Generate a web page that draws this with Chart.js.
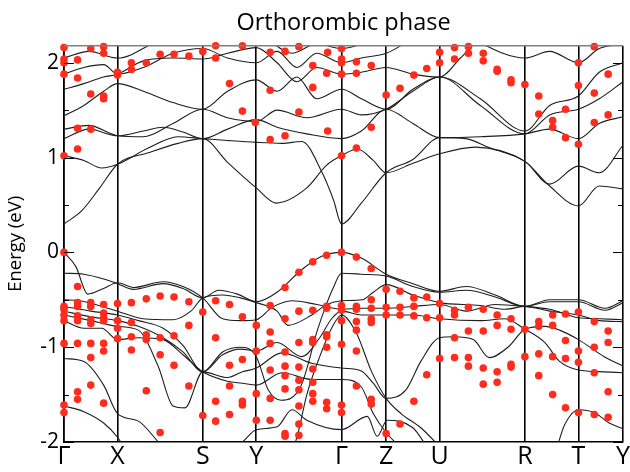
<!DOCTYPE html>
<html>
<head>
<meta charset="utf-8">
<title>Orthorombic phase</title>
<script src="https://cdn.jsdelivr.net/npm/chart.js@4.4.1/dist/chart.umd.min.js"></script>
<style>
  html, body { margin: 0; padding: 0; background: #fff; }
  #wrap { width: 630px; height: 472px; }
</style>
</head>
<body>
<div id="wrap"><canvas id="bands"></canvas></div>
<script>
// k-path positions of the high-symmetry points and their labels
const kPoints = [0, 54, 140, 194, 280, 325, 379, 465, 519, 564];
const kLabels = ['Γ', 'X', 'S', 'Y', 'Γ', 'Z', 'U', 'R', 'T', 'Y'];

// Conduction bands, [k, energy eV]
const cb1 = [[0,0.30],[18,0.44],[36,0.68],[54,0.93],[85,1.05],[115,1.15],[140,1.20],[165,0.95],[194,0.68],[214,0.52],[245,0.68],[265,0.92],[280,1.02],[296,1.09],[312,0.97],[325,0.84],[352,0.94],[379,1.04],[415,1.11],[465,0.96],[490,0.72],[519,0.91],[540,0.84],[564,1.13]];
const cb2 = [[0,1.02],[20,0.97],[38,0.89],[54,0.93],[85,1.10],[115,1.22],[140,1.20],[165,1.18],[194,1.16],[220,1.15],[240,1.17],[260,0.85],[272,0.55],[280,0.30],[300,0.52],[325,0.84],[352,0.98],[379,1.21],[405,1.20],[430,1.10],[465,0.96],[490,0.70],[519,0.49],[540,0.70],[564,0.67]];
const cb3 = [[0,1.20],[25,1.30],[54,1.23],[80,1.28],[100,1.32],[120,1.27],[140,1.20],[165,1.30],[194,1.40],[215,1.32],[245,1.25],[280,1.20],[300,1.28],[325,1.51],[352,1.36],[379,1.21],[420,1.22],[465,1.25],[490,1.30],[519,1.20],[540,1.36],[564,1.43]];
const cb4 = [[0,1.30],[25,1.34],[54,1.23],[80,1.22],[110,1.36],[140,1.51],[165,1.42],[194,1.38],[215,1.50],[245,1.42],[280,1.51],[300,1.45],[325,1.51],[352,1.70],[379,1.85],[420,1.55],[465,1.25],[490,1.45],[519,1.51],[540,1.62],[564,1.80]];
const cb5 = [[0,1.44],[20,1.55],[40,1.70],[54,1.78],[80,1.70],[110,1.58],[140,1.51],[165,1.70],[194,1.82],[215,1.70],[235,1.85],[255,1.62],[280,1.72],[300,1.62],[325,1.51],[352,1.72],[379,1.85],[420,1.62],[465,1.28],[490,1.55],[519,1.65],[540,1.90],[564,2.0]];
const cb6 = [[0,1.72],[20,1.78],[40,1.85],[54,1.88],[80,2.02],[110,2.05],[140,2.04],[165,2.10],[194,2.16],[215,2.0],[235,1.80],[255,1.95],[280,1.88],[300,1.90],[325,1.95],[352,1.88],[379,1.85],[400,2.05],[420,2.25],[465,2.35],[519,2.3],[564,2.3]];
const cb7 = [[0,1.88],[20,1.95],[40,1.98],[54,1.88],[80,1.95],[110,2.10],[140,2.15],[165,2.05],[194,2.0],[215,2.12],[235,1.95],[255,2.10],[280,2.0],[300,2.05],[325,2.10],[352,2.25],[379,2.35],[465,2.05],[490,2.12],[519,2.0],[540,2.15],[564,2.2]];
const cb8 = [[0,2.05],[25,2.12],[54,2.05],[100,2.25],[140,2.3],[194,2.3],[230,2.1],[255,2.2],[280,2.15],[325,2.3]];

// Valence bands, [k, energy eV]
const vb1 = [[0,-0.22],[20,-0.23],[40,-0.28],[54,-0.33],[70,-0.39],[100,-0.33],[120,-0.38],[140,-0.48],[156,-0.40],[175,-0.44],[194,-0.52],[215,-0.42],[240,-0.18],[260,-0.04],[280,0.0],[300,-0.06],[325,-0.23],[352,-0.33],[379,-0.41],[406,-0.36],[435,-0.45],[465,-0.57],[490,-0.50],[519,-0.50],[546,-0.59],[564,-0.51]];
const vb2 = [[0,0.0],[12,-0.15],[24,-0.44],[40,-0.38],[54,-0.32],[70,-0.37],[100,-0.31],[120,-0.36],[140,-0.48],[160,-0.70],[178,-0.72],[194,-0.71],[210,-0.58],[230,-0.51],[255,-0.55],[280,-0.60],[300,-0.59],[325,-0.59],[352,-0.57],[379,-0.55],[406,-0.62],[435,-0.55],[465,-0.57],[490,-0.60],[519,-0.69],[540,-0.70],[564,-0.71]];
const vb3 = [[0,-0.50],[16,-0.51],[35,-0.56],[54,-0.62],[80,-0.70],[110,-0.71],[128,-0.62],[140,-0.48],[160,-0.45],[178,-0.48],[194,-0.53],[215,-0.62],[226,-0.77],[250,-0.66],[265,-0.55],[280,-0.51],[301,-0.50],[312,-0.42],[325,-0.34],[352,-0.45],[379,-0.53],[420,-0.56],[445,-0.60],[465,-0.57],[490,-0.62],[519,-0.66],[540,-0.72],[564,-0.73]];
const vb4 = [[0,-0.57],[27,-0.62],[54,-0.66],[75,-0.72],[100,-0.80],[120,-0.98],[140,-1.26],[160,-1.05],[178,-1.00],[194,-1.10],[206,-1.45],[219,-1.56],[239,-1.41],[256,-0.81],[264,-0.57],[271,-0.39],[280,-0.22],[300,-0.23],[325,-0.25],[352,-0.36],[379,-0.42],[406,-0.40],[435,-0.47],[465,-0.57],[490,-0.52],[519,-0.52],[546,-0.61],[564,-0.53]];
const vb5 = [[0,-0.66],[27,-0.72],[54,-0.78],[75,-0.82],[95,-1.20],[110,-1.62],[122,-1.64],[140,-1.26],[165,-1.32],[180,-1.26],[194,-1.22],[220,-1.06],[250,-1.17],[280,-1.22],[300,-1.25],[312,-1.38],[325,-1.54],[345,-1.45],[360,-1.15],[379,-0.90],[393,-0.89],[413,-0.92],[429,-1.11],[449,-0.99],[465,-0.81],[485,-0.78],[500,-0.82],[519,-0.92],[545,-1.10],[564,-1.20]];
const vb6 = [[0,-0.72],[20,-0.80],[38,-0.80],[54,-0.92],[75,-0.90],[100,-0.92],[120,-1.08],[140,-1.26],[165,-1.36],[180,-1.38],[194,-1.40],[220,-1.27],[250,-1.34],[280,-1.34],[300,-1.42],[312,-1.70],[325,-1.90],[345,-2.1],[379,-2.3],[465,-2.3],[497,-2.05],[505,-1.82],[519,-1.66],[535,-1.69],[550,-1.80],[564,-1.86]];
const vb7 = [[0,-1.12],[20,-1.15],[40,-1.40],[54,-1.70],[75,-1.78],[100,-2.05],[140,-2.3],[180,-2.0],[194,-1.87],[215,-1.84],[230,-1.66],[245,-1.77],[280,-1.87],[306,-1.73],[316,-1.94],[326,-1.77],[352,-1.85],[370,-2.1],[400,-2.3]];
const vb8 = [[0,-1.62],[20,-1.68],[40,-1.80],[54,-1.95],[70,-2.2],[140,-2.4],[194,-2.3],[225,-2.2],[235,-1.95],[245,-1.5],[258,-1.1],[270,-0.8],[280,-0.66],[295,-0.85],[310,-1.25],[325,-1.54],[340,-1.70],[360,-1.85],[379,-2.05],[400,-2.3]];
const vb9 = [[0,-0.62],[27,-0.68],[54,-0.72],[75,-0.78],[100,-0.90],[120,-1.05],[140,-1.26],[160,-1.08],[178,-1.02],[194,-1.04],[215,-0.95],[240,-1.10],[258,-0.90],[270,-0.70],[280,-0.62],[300,-0.66],[325,-0.66],[352,-0.66],[379,-0.70],[420,-0.72],[445,-0.70],[465,-0.81],[485,-0.95],[500,-1.15],[519,-1.24],[545,-1.26],[564,-1.27]];

const bands = [cb1, cb2, cb3, cb4, cb5, cb6, cb7, cb8, vb1, vb2, vb3, vb4, vb5, vb6, vb7, vb8, vb9];

// Red markers (projected states), [k, energy eV]
const dotsUpper = [
  [0,2.16],[0,2.04],[0,2.0],[0,1.88],[13.7,2.03],[13.7,1.84],[27,2.15],[40,2.17],[40,2.10],[27,1.67],[40,1.65],[40,1.62],
  [54,1.90],[54,1.87],[68,2.0],[68,1.93],[83,2.0],[97,2.09],[111,2.09],[126,2.07],[140,2.12],[153,2.18],[153,2.05],
  [167,1.78],[180,2.18],[180,1.49],[193,1.37],[13.7,1.31],[27,1.30],[13.7,1.09],[0,1.02],
  [208,2.11],[223,2.12],[237,2.17],[266,2.11],[280,2.15],[280,2.04],[280,2.0],[295,2.01],[251,1.97],[310,1.97],
  [265,1.89],[280,1.88],[295,1.89],[251,1.74],[208,1.71],[325,1.66],[339,1.73],[353,1.87],[366,1.94],[379,2.11],[379,2.0],
  [237,1.48],[208,1.19],[223,1.23],[266,1.28],[310,1.32],[280,1.02],[295,1.10],
  [394,2.16],[394,2.04],[408,2.17],[408,2.10],[423,2.10],[423,2.02],[437,1.93],[437,1.91],[451,1.82],[451,1.79],
  [465,1.77],[479,1.65],[479,1.46],[493,1.39],[493,1.32],[506,1.51],[506,1.21],[519,2.0],[519,1.76],[519,1.14],
  [535,2.17],[535,1.68],[535,1.37],[549,1.88],[549,1.45]
];
const dotsLower = [
  [0,0.0],[13.7,-0.36],
  [0,-0.57],[0,-0.60],[0,-0.66],[0,-0.72],[0,-0.96],[0,-1.61],[0,-1.69],
  [13.7,-0.53],[13.7,-0.57],[13.7,-0.67],[13.7,-0.72],[13.7,-0.96],[13.7,-1.47],[13.7,-1.55],
  [27,-0.53],[27,-0.57],[27,-0.71],[27,-0.75],[27,-0.96],[27,-1.11],[27,-1.40],
  [40,-0.55],[40,-0.64],[40,-0.69],[40,-0.72],[40,-0.96],[40,-1.04],[40,-1.59],
  [54,-0.54],[54,-0.72],[54,-0.80],[54,-0.91],
  [68,-0.53],[68,-0.74],[68,-0.89],[68,-1.03],
  [83,-0.49],[83,-0.87],[83,-0.92],[83,-1.46],
  [97,-0.46],[97,-0.90],[97,-1.08],[97,-1.90],
  [111,-0.47],[111,-0.88],[111,-1.19],
  [126,-0.52],[126,-0.77],[126,-1.41],
  [140,-0.63],[140,-1.72],
  [153,-0.51],[153,-0.90],[153,-1.57],[153,-1.78],
  [167,-0.55],[167,-1.19],[167,-1.41],[167,-1.71],
  [180,-0.68],[180,-1.13],[180,-1.57],[180,-1.61],
  [194,-0.77],[194,-1.04],[194,-1.49],[194,-1.77],
  [208,-0.56],[208,-0.84],[208,-0.96],[208,-1.24],[208,-1.54],[208,-1.77],
  [223,-0.37],[223,-0.70],[223,-1.05],[223,-1.20],[223,-1.30],[223,-1.44],[223,-1.91],[223,-1.94],
  [237,-0.21],[237,-0.62],[237,-0.95],[237,-1.21],[237,-1.35],[237,-1.45],[237,-1.62],[237,-1.81],[237,-1.93],
  [251,-0.10],[251,-0.61],[251,-0.92],[251,-0.95],[251,-1.23],[251,-1.37],[251,-1.49],[251,-1.57],
  [265,-0.03],[265,-0.57],[265,-0.59],[265,-0.87],[265,-0.89],[265,-1.0],[265,-1.58],[265,-1.65],
  [280,0.0],[280,-0.56],[280,-0.61],[280,-0.72],[280,-0.97],[280,-1.61],[280,-1.69],
  [295,-0.05],[295,-0.57],[295,-0.60],[295,-0.73],[295,-0.82],[295,-1.04],[295,-1.41],
  [310,-0.17],[310,-0.50],[310,-0.59],[310,-0.70],[310,-0.74],[310,-1.55],[310,-1.60],
  [325,-0.39],[325,-0.58],[325,-0.66],[325,-1.91],
  [339,-0.41],[339,-0.58],[339,-0.66],[339,-1.81],
  [353,-0.48],[353,-0.57],[353,-0.67],[353,-1.57],
  [366,-0.47],[366,-0.69],[366,-1.29],
  [379,-0.54],[379,-0.69],[379,-1.12],
  [394,-0.61],[394,-0.66],[394,-0.90],[394,-1.11],
  [408,-0.58],[408,-0.83],[408,-1.11],[408,-1.20],
  [423,-0.60],[423,-0.83],[423,-1.22],[423,-1.39],
  [437,-0.66],[437,-0.77],[437,-1.26],[437,-1.37],
  [451,-0.70],[451,-0.81],[451,-1.18],[451,-1.21],
  [465,-0.81],[465,-1.10],
  [479,-0.73],[479,-0.78],[479,-1.07],[479,-1.30],
  [493,-0.66],[493,-0.77],[493,-1.10],[493,-1.50],
  [506,-0.65],[506,-0.93],[506,-1.12],[506,-1.64],
  [519,-0.63],[519,-1.04],[519,-1.16],[519,-1.69],
  [535,-0.73],[535,-1.0],[535,-1.27],[535,-1.71],
  [549,-0.83],[549,-0.95],[549,-1.47],[549,-1.74]
];

const FONT = "'Open Sans', 'DejaVu Sans', sans-serif";
const toXY = pts => pts.map(([k, e]) => ({ x: k, y: e }));

// inward tick marks on both energy axes + grey top frame line
const frameTicks = {
  id: 'frameTicks',
  afterDraw(chart) {
    const { ctx, chartArea: a, scales: { y } } = chart;
    ctx.save();
    ctx.strokeStyle = '#000';
    ctx.lineWidth = 1.2;
    for (let i = -4; i <= 4; i++) {
      const py = Math.round(y.getPixelForValue(i / 2)) + 0.5;
      const len = i % 2 === 0 ? 10 : 5;
      ctx.beginPath();
      ctx.moveTo(a.left, py); ctx.lineTo(a.left + len, py);
      ctx.moveTo(a.right, py); ctx.lineTo(a.right - len, py);
      ctx.stroke();
    }
    ctx.strokeStyle = '#808080';
    ctx.lineWidth = 1.5;
    ctx.beginPath();
    ctx.moveTo(a.left, a.top); ctx.lineTo(a.right, a.top);
    ctx.stroke();
    ctx.restore();
  }
};

const datasets = bands.map(b => ({
  data: toXY(b),
  borderColor: '#1e1e1e',
  borderWidth: 1.1,
  pointRadius: 0,
  cubicInterpolationMode: 'monotone',
  fill: false,
  order: 2
}));

datasets.push({
  data: toXY(dotsUpper.concat(dotsLower)),
  showLine: false,
  pointRadius: 3.8,
  pointBackgroundColor: '#ff2b1c',
  pointBorderWidth: 0,
  clip: false,
  order: 1
});

new Chart(document.getElementById('bands'), {
  type: 'line',
  data: { datasets: datasets },
  options: {
    responsive: true,
    maintainAspectRatio: false,
    animation: false,
    devicePixelRatio: 1,
    layout: { padding: { right: 2, left: 0, bottom: 0 } },
    plugins: {
      legend: { display: false },
      tooltip: { enabled: false },
      title: {
        display: true,
        fullSize: false,
        text: 'Orthorombic phase',
        color: '#000',
        font: { family: FONT, size: 23.5, weight: 'normal' },
        padding: { top: 9, bottom: 8.5 }
      }
    },
    scales: {
      x: {
        type: 'linear',
        min: 0,
        max: 564,
        afterBuildTicks: s => { s.ticks = kPoints.map(v => ({ value: v })); },
        afterFit: s => { s.height = 30; },
        ticks: {
          callback: (v, i) => kLabels[i],
          color: '#000',
          font: { family: FONT, size: 25 },
          padding: 0,
          maxRotation: 0,
          autoSkip: false
        },
        grid: { color: '#000', lineWidth: 1.6, drawTicks: false },
        border: { color: '#000', width: 1.6 }
      },
      y: {
        min: -2,
        max: 2.18,
        afterFit: s => { s.width = 64; },
        ticks: {
          stepSize: 1,
          includeBounds: false,
          color: '#000',
          font: { family: FONT, size: 21 },
          padding: 5
        },
        grid: { display: false, drawTicks: false },
        border: { color: '#000', width: 1.6 },
        title: {
          display: true,
          text: 'Energy (eV)',
          color: '#000',
          font: { family: FONT, size: 18.5 },
          padding: { top: 5, bottom: 0 }
        }
      }
    }
  },
  plugins: [frameTicks]
});
</script>
</body>
</html>
